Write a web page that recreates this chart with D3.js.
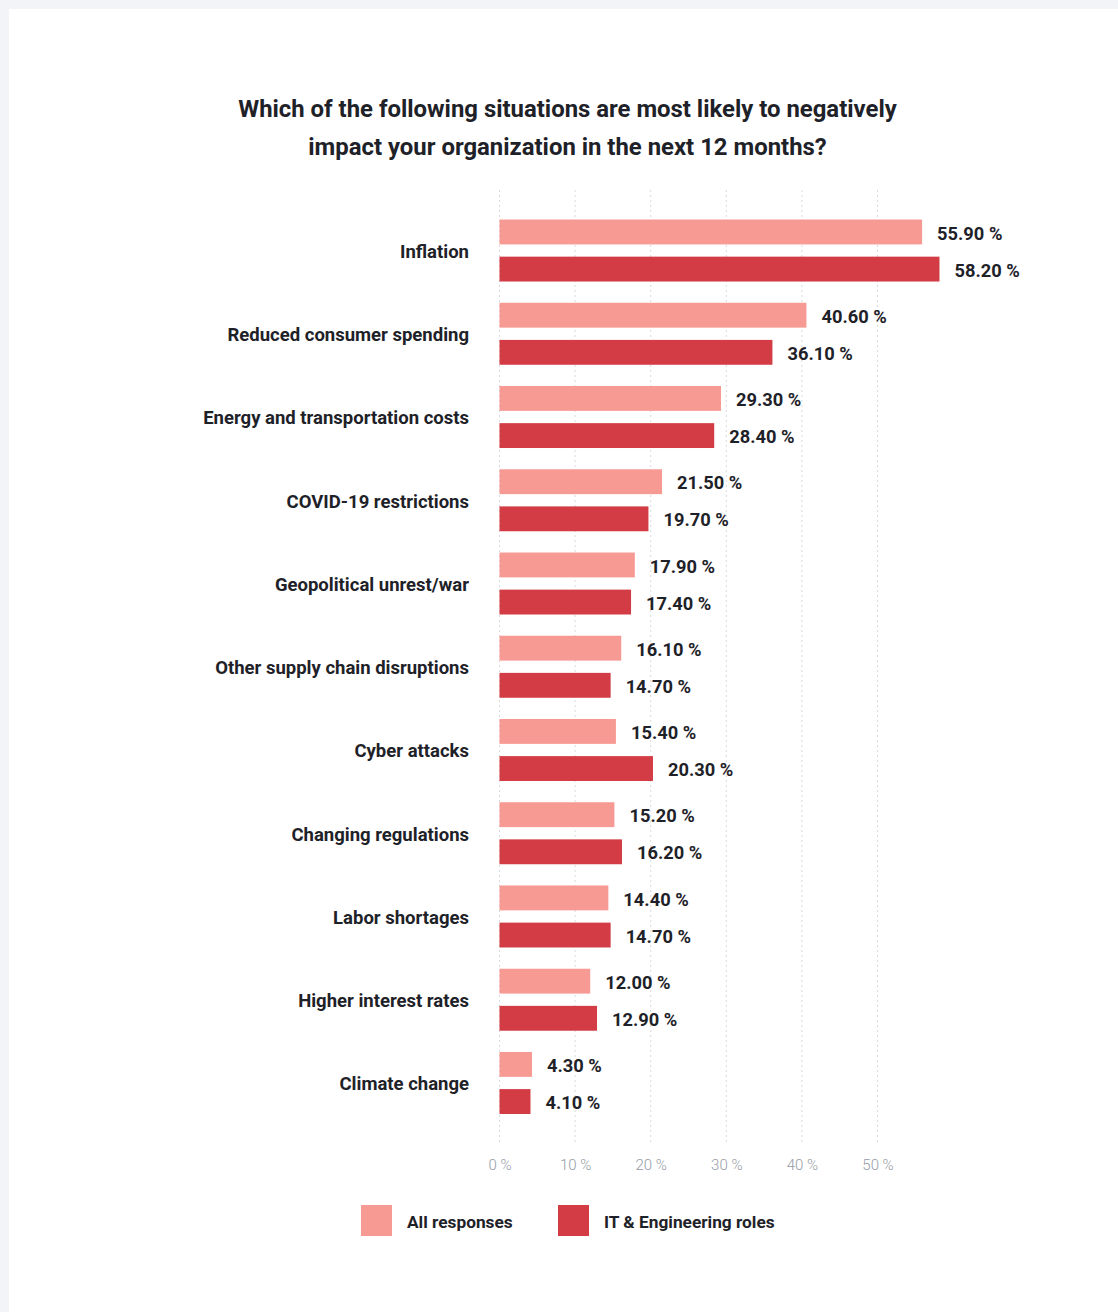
<!DOCTYPE html>
<html><head><meta charset="utf-8">
<script src="https://cdn.jsdelivr.net/npm/d3@7/dist/d3.min.js"></script>
<style>
html,body{margin:0;padding:0;background:#f3f4f8;}
svg{display:block;font-family:Roboto,"Noto Sans",sans-serif;}
</style></head><body>
<svg id="chart" width="1118" height="1312"></svg>
<script>
const categories = ["Inflation","Reduced consumer spending","Energy and transportation costs","COVID-19 restrictions","Geopolitical unrest/war","Other supply chain disruptions","Cyber attacks","Changing regulations","Labor shortages","Higher interest rates","Climate change"];
const allResponses = [55.9,40.6,29.3,21.5,17.9,16.1,15.4,15.2,14.4,12.0,4.3];
const itEngineering = [58.2,36.1,28.4,19.7,17.4,14.7,20.3,16.2,14.7,12.9,4.1];
const seriesNames = ["All responses","IT & Engineering roles"];
const seriesColors = ["#f89a94","#d33c44"];
const tickValues = [0,10,20,30,40,50];
const titleLines = ["Which of the following situations are most likely to negatively","impact your organization in the next 12 months?"];

const svg = d3.select("#chart");
svg.append("rect").attr("x",9).attr("y",9).attr("width",1109).attr("height",1303).attr("fill","#fff");

svg.selectAll("text.title").data(titleLines).join("text")
  .attr("class","title").attr("x",567.5).attr("y",(d,i)=>117+i*38)
  .attr("text-anchor","middle").attr("font-size",23.9).attr("font-weight",700).attr("fill","#1e2228")
  .text(d=>d);

const x = d3.scaleLinear().domain([0,50]).range([499.5,877.5]);
const y = d3.scaleBand().domain(categories).range([208.9,1124.6]);
const inner = d3.scaleBand().domain(seriesNames).range([-31,31]).paddingInner(0.33);

// gridlines
svg.append("g").selectAll("line").data(tickValues).join("line")
  .attr("x1",d=>x(d)).attr("x2",d=>x(d)).attr("y1",190).attr("y2",1144)
  .attr("stroke","#d8dade").attr("stroke-width",1).attr("stroke-dasharray","2,3");

// x axis
const xAxis = d3.axisBottom(x).tickValues(tickValues).tickFormat(d=>d+" %").tickSize(0).tickPadding(0);
const gx = svg.append("g").attr("transform","translate(0,1170)").call(xAxis);
gx.select(".domain").remove();
gx.selectAll("text").attr("font-size",15).attr("fill","#959ca6").attr("font-family","Roboto, sans-serif").attr("font-weight",300).attr("dy","0");

// category labels
const yAxis = d3.axisLeft(y).tickSize(0).tickPadding(0);
const gy = svg.append("g").attr("transform","translate(469,1)").call(yAxis);
gy.select(".domain").remove();
gy.selectAll("text").attr("font-size",18.5).attr("font-weight",700).attr("fill","#1e2228").attr("font-family","Roboto, sans-serif").attr("dy","0.35em");

const series = [allResponses, itEngineering];
series.forEach((vals,si)=>{
  const g = svg.append("g");
  const data = categories.map((c,i)=>({c,v:vals[i]}));
  g.selectAll("rect").data(data).join("rect")
    .attr("x",x(0)).attr("y",d=>y(d.c)+y.bandwidth()/2+inner(seriesNames[si]))
    .attr("width",d=>x(d.v)-x(0)).attr("height",inner.bandwidth())
    .attr("fill",seriesColors[si]);
  g.selectAll("text").data(data).join("text")
    .attr("x",d=>x(d.v)+15).attr("y",d=>y(d.c)+y.bandwidth()/2+inner(seriesNames[si])+inner.bandwidth()/2+1)
    .attr("dy","0.36em").attr("font-size",18.3).attr("font-weight",700).attr("fill","#1e2228")
    .text(d=>d.v.toFixed(2)+" %");
});

// legend
const legX = [361,558];
const leg = svg.append("g").selectAll("g").data(seriesNames).join("g")
  .attr("transform",(d,i)=>`translate(${legX[i]},1205)`);
leg.append("rect").attr("width",31).attr("height",31).attr("fill",(d,i)=>seriesColors[i]);
leg.append("text").attr("x",46).attr("y",17).attr("dy","0.35em").attr("font-size",17.3).attr("font-weight",700).attr("fill","#1e2228").text(d=>d);
</script>
</body></html>
